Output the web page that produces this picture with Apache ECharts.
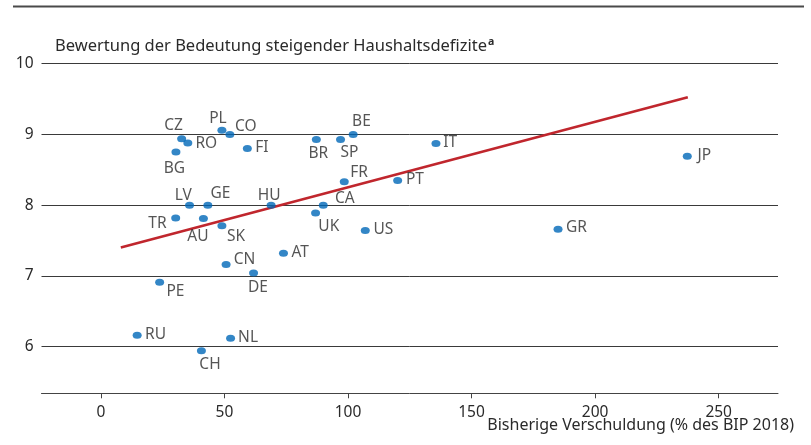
<!DOCTYPE html>
<html>
<head>
<meta charset="utf-8">
<script src="https://cdn.jsdelivr.net/npm/echarts@6/dist/echarts.min.js"></script>
<style>
html,body{margin:0;padding:0;background:#fff;}
#c{width:811px;height:445px;}
</style>
</head>
<body>
<div id="c"></div>
<script>
// ---- data ----
var countries = ['CZ','RO','BG','PL','CO','FI','BR','SP','BE','IT','JP','GR','FR','PT','CA','UK','US','LV','GE','HU','TR','AU','SK','AT','CN','DE','PE','RU','NL','CH'];
var debt      = [32.7, 35.2, 30.4, 49.0, 52.2, 59.3, 87.2, 97.0, 102.1, 135.6, 237.3, 185.0, 98.5, 120.1, 90.0, 86.9, 107.0, 35.9, 43.3, 68.9, 30.3, 41.5, 49.0, 73.9, 50.7, 61.8, 23.8, 14.7, 52.5, 40.7];
var rating    = [8.94, 8.88, 8.75, 9.06, 9.00, 8.80, 8.93, 8.93, 9.00, 8.87, 8.69, 7.66, 8.33, 8.35, 8.00, 7.89, 7.64, 8.00, 8.00, 8.00, 7.82, 7.81, 7.71, 7.32, 7.16, 7.04, 6.91, 6.16, 6.12, 5.94];
var trendX    = [8.1, 237.5];
var trendY    = [7.40, 9.525];
var xTicks    = [0, 50, 100, 150, 200, 250];
var yTicks    = [6, 7, 8, 9, 10];

// ---- label placement (style only) ----
var labelOffsets = {
  CZ:[-8,-13], RO:[18.5,1], BG:[-1.6,16], PL:[-4,-12], CO:[16,-8], FI:[14.5,-0.7],
  BR:[2,14], SP:[9,13.6], BE:[8.3,-12.8], IT:[14.3,-1], JP:[17,-0.6], GR:[18.4,-1.2],
  FR:[14.8,-9], PT:[17.3,-0.9], CA:[21.5,-7], UK:[13.2,13.5], US:[18.2,-1.2],
  LV:[-6.3,-9.5], GE:[12.7,-12], HU:[-2,-9.5], TR:[-18.3,5.3], AU:[-5.5,18],
  SK:[14.2,11], AT:[16.7,-0.8], CN:[18.3,-4.9], DE:[4.3,15], PE:[15.8,9.4],
  RU:[18.4,-0.8], NL:[17.5,-0.5], CH:[8.6,13.8]
};

var FONT = 'Noto Sans';
var TXT = '#2a2a2a';

var points = countries.map(function(c, i){
  return {
    name: c,
    value: [debt[i], rating[i]],
    label: { offset: labelOffsets[c] || [14,0] }
  };
});
var trend = trendX.map(function(x, i){ return [x, trendY[i]]; });

var chart = echarts.init(document.getElementById('c'), null, {renderer:'canvas'});
chart.setOption({
  animation: false,
  backgroundColor: '#ffffff',
  textStyle: { fontFamily: FONT },
  title: {
    left: 50, top: 32,
    text: '{m|Bewertung der Bedeutung steigender Haushaltsdefizite}{s|a}',
    textStyle: {
      rich: {
        m: { fontFamily: FONT, fontSize: 16.5, color: TXT, fontWeight: 'normal' },
        s: { fontFamily: FONT, fontSize: 10.5, color: TXT, verticalAlign: 'top', padding: [0,0,7,1] }
      }
    }
  },
  grid: { left: 41.5, right: 33, top: 63.7, bottom: 51.7, containLabel: false },
  xAxis: {
    type: 'value', min: -24, max: 274,
    axisLine: { show: true, lineStyle: { color: '#444', width: 1 } },
    axisTick: { show: true, length: 5, customValues: xTicks, lineStyle: { color: '#444' } },
    axisLabel: { customValues: xTicks, margin: 11, fontFamily: FONT, fontSize: 15.5, color: TXT },
    splitLine: { show: false }
  },
  yAxis: {
    type: 'value', min: 5.34, max: 10,
    axisLine: { show: false },
    axisTick: { show: false, customValues: yTicks },
    axisLabel: { customValues: yTicks, margin: 8, fontFamily: FONT, fontSize: 15.5, color: TXT },
    splitLine: { show: true, lineStyle: { color: '#3a3a3a', width: 1 } }
  },
  graphic: [
    { type: 'line', shape: { x1: 13, y1: 6.5, x2: 804, y2: 6.5 }, style: { stroke: '#4a4a4a', lineWidth: 2 } },
    { type: 'text', right: 17, top: 417,
      style: { text: 'Bisherige Verschuldung (% des BIP 2018)', font: '16px "Noto Sans"', fill: TXT } }
  ],
  series: [
    {
      type: 'line', data: trend, symbol: 'none', silent: true, z: 1,
      lineStyle: { color: '#c0262d', width: 2.6 }
    },
    {
      type: 'scatter', data: points, symbol: 'circle', symbolSize: [9, 7], z: 3,
      itemStyle: { color: '#0068b8' },
      label: {
        show: true, position: 'inside', formatter: '{b}',
        align: 'center', verticalAlign: 'middle',
        fontFamily: FONT, fontSize: 15.5, color: TXT
      }
    }
  ]
});
</script>
</body>
</html>
